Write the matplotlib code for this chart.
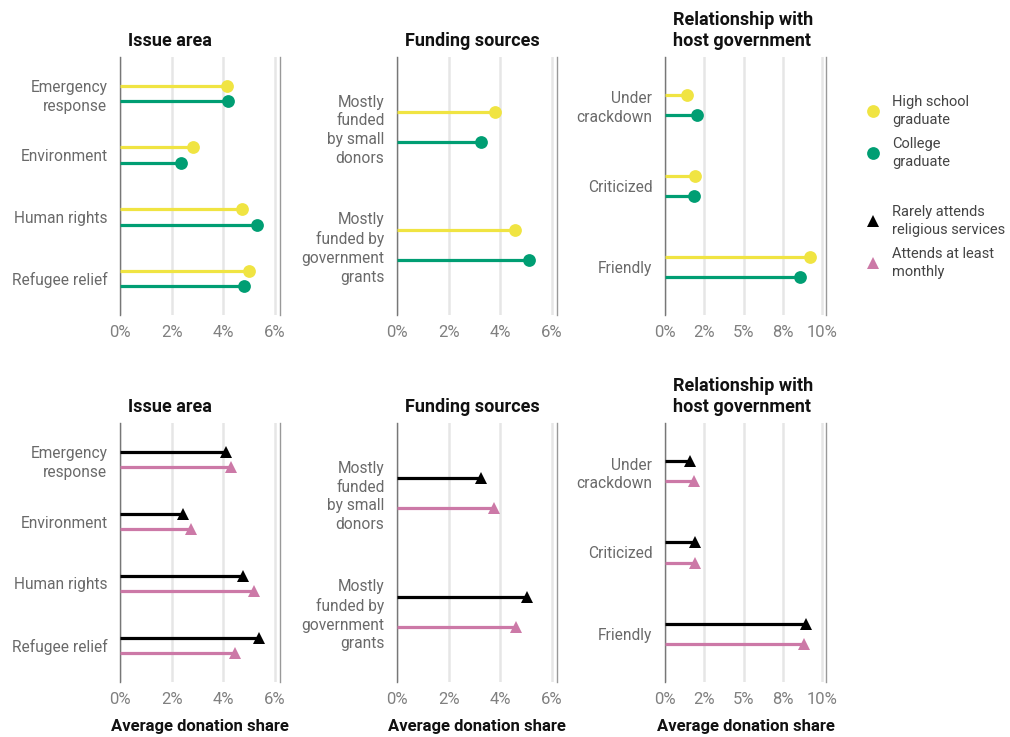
import matplotlib
matplotlib.use("Agg")
import matplotlib.pyplot as plt
from matplotlib.lines import Line2D

plt.rcParams['font.family'] = ['Roboto', 'DejaVu Sans']

# categories
issue_cats = ["Emergency\nresponse", "Environment", "Human rights", "Refugee relief"]
funding_cats = ["Mostly\nfunded\nby small\ndonors", "Mostly\nfunded by\ngovernment\ngrants"]
relation_cats = ["Under\ncrackdown", "Criticized", "Friendly"]
panel_titles = ["Issue area", "Funding sources", "Relationship with\nhost government"]

# top row: education (average donation share, %)
hs_issue = [4.13, 2.84, 4.72, 4.98]
college_issue = [4.20, 2.37, 5.29, 4.82]
hs_funding = [3.80, 4.58]
college_funding = [3.24, 5.10]
hs_relation = [1.38, 1.89, 9.22]
college_relation = [2.06, 1.87, 8.58]

# bottom row: religious attendance
rarely_issue = [4.09, 2.45, 4.78, 5.39]
monthly_issue = [4.29, 2.75, 5.21, 4.44]
rarely_funding = [3.26, 5.05]
monthly_funding = [3.74, 4.60]
rarely_relation = [1.61, 1.91, 8.99]
monthly_relation = [1.82, 1.89, 8.82]

x_ticks_small = [0, 2, 4, 6]
x_labels_small = ["0%", "2%", "4%", "6%"]
x_ticks_big = [0, 2.5, 5, 7.5, 10]
x_labels_big = ["0%", "2%", "5%", "8%", "10%"]

YELLOW = "#F0E442"
GREEN = "#009E73"
BLACK = "#000000"
PINK = "#CC79A7"

W, H = 1010, 737
fig = plt.figure(figsize=(W / 100, H / 100), dpi=100)


def px_axes(x0, y0, x1, y1):
    return fig.add_axes([x0 / W, 1 - y1 / H, (x1 - x0) / W, (y1 - y0) / H])


cols = [(120, 280), (397, 557), (665, 826)]
rows = [(57, 315), (423, 682)]
xmaxs = [6.2, 6.2, 10.23]
cats_all = [issue_cats, funding_cats, relation_cats]

top_data = [(hs_issue, college_issue), (hs_funding, college_funding), (hs_relation, college_relation)]
bot_data = [(rarely_issue, monthly_issue), (rarely_funding, monthly_funding), (rarely_relation, monthly_relation)]


def draw_panel(ax, cats, first, second, c1, c2, marker, ms, xmax, col, bottom):
    n = len(cats)
    ypos = list(range(n))
    off = 0.125
    y1 = [y - off for y in ypos]
    y2 = [y + off for y in ypos]
    ax.hlines(y1, 0, first, color=c1, lw=2.3, zorder=3)
    ax.plot(first, y1, marker, color=c1, ms=ms, mew=0, zorder=4)
    ax.hlines(y2, 0, second, color=c2, lw=2.3, zorder=3)
    ax.plot(second, y2, marker, color=c2, ms=ms, mew=0, zorder=4)

    ax.set_xlim(0, xmax)
    ax.set_ylim(n - 1 + 0.59, -0.59)
    ax.set_yticks(ypos)
    ax.set_yticklabels(cats)
    for lab in ax.get_yticklabels():
        lab.set_linespacing(1.3)
    if col == 2:
        ax.set_xticks(x_ticks_big)
        ax.set_xticklabels(x_labels_big)
    else:
        ax.set_xticks(x_ticks_small)
        ax.set_xticklabels(x_labels_small)
    ax.grid(axis='x', color='#e6e6e6', lw=1.8, zorder=0)
    ax.set_axisbelow(True)
    for s in ['top', 'bottom']:
        ax.spines[s].set_visible(False)
    ax.spines['left'].set_color('#777777')
    ax.spines['right'].set_color('#999999')
    ax.spines['left'].set_linewidth(1)
    ax.spines['right'].set_linewidth(1)
    ax.tick_params(axis='x', length=0, pad=7, labelsize=12, labelcolor='#808080')
    ax.tick_params(axis='y', length=0, pad=9, labelsize=11.2, labelcolor='#6a6a6a')
    ax.annotate(panel_titles[col], xy=(0, 1), xycoords='axes fraction',
                xytext=(8, 7), textcoords='offset pixels', ha='left', va='bottom',
                fontsize=13, fontweight='bold', color='#111111', linespacing=1.2)
    if bottom:
        ax.set_xlabel("Average donation share", fontsize=12, fontweight='bold',
                      color='#111111', labelpad=9)


for c in range(3):
    ax = px_axes(cols[c][0], rows[0][0], cols[c][1], rows[0][1])
    draw_panel(ax, cats_all[c], top_data[c][0], top_data[c][1], YELLOW, GREEN,
               'o', 9.2, xmaxs[c], c, False)
    ax = px_axes(cols[c][0], rows[1][0], cols[c][1], rows[1][1])
    draw_panel(ax, cats_all[c], bot_data[c][0], bot_data[c][1], BLACK, PINK,
               '^', 8.2, xmaxs[c], c, True)

edu_handles = [Line2D([], [], ls='none', marker='o', ms=9.2, color=YELLOW, mew=0),
               Line2D([], [], ls='none', marker='o', ms=9.2, color=GREEN, mew=0)]
rel_handles = [Line2D([], [], ls='none', marker='^', ms=8.2, color=BLACK, mew=0),
               Line2D([], [], ls='none', marker='^', ms=8.2, color=PINK, mew=0)]

legend_kw = dict(loc='upper left', frameon=False, fontsize=10.5, labelcolor='#444444',
                 handlelength=1.0, handletextpad=0.8, labelspacing=0.68,
                 borderpad=0, borderaxespad=0)
leg1 = fig.legend(edu_handles, ["High school\ngraduate", "College\ngraduate"],
                  bbox_to_anchor=(866 / W, 1 - 95 / H), **legend_kw)
leg2 = fig.legend(rel_handles, ["Rarely attends\nreligious services", "Attends at least\nmonthly"],
                  bbox_to_anchor=(866 / W, 1 - 205 / H), **legend_kw)
for leg in (leg1, leg2):
    for t in leg.get_texts():
        t.set_linespacing(1.35)

fig.savefig("out.png", dpi=100)
